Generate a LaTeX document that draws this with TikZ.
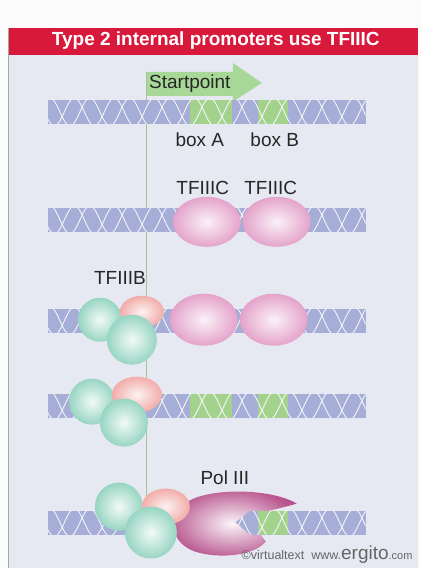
\documentclass[tikz,border=0pt]{standalone}
\usepackage{fontspec}
\setmainfont{Liberation Sans}

\definecolor{panelbg}{HTML}{E7E9F2}
\definecolor{titlered}{HTML}{D8193B}
\definecolor{dnablue}{HTML}{A6ADD6}
\definecolor{boxgreen}{HTML}{A3D28C}
\definecolor{startgreen}{HTML}{A8D897}
\definecolor{tfcpink}{HTML}{E4A3CB}
\definecolor{tfbgreen}{HTML}{97D5C2}
\definecolor{tfbpink}{HTML}{F1ADA9}
\definecolor{polmauve}{HTML}{B8558E}
\definecolor{textgray}{HTML}{262626}

% one stretch of double helix, #1 = lower edge
\newcommand\dnastrip[1]{%
  \fill[dnablue] (48,#1) rectangle (366,#1+24);
  \fill[boxgreen] (190,#1) rectangle (232,#1+24);
  \fill[boxgreen] (258,#1) rectangle (288,#1+24);
  \begin{scope}
    \clip (48,#1) rectangle (366,#1+24);
    \draw[helix] plot[domain=44:370,samples=200] (\x,{#1+12+14*sin(9*\x)});
    \draw[helix] plot[domain=44:370,samples=200] (\x,{#1+12+14*sin(9*\x+140)});
  \end{scope}}

\begin{document}
\begin{tikzpicture}[x=1pt,y=1pt,
  lbl/.style={font=\fontsize{19}{22}\selectfont,text=textgray,inner sep=0pt},
  helix/.style={white!88!dnablue,line width=0.9pt},
  tfc/.style={inner color=tfcpink!15,outer color=tfcpink},
  tfb/.style={inner color=tfbgreen!12,outer color=tfbgreen},
  tfbsmall/.style={inner color=tfbpink!15,outer color=tfbpink},
  polshade/.style={inner color=polmauve!6,outer color=polmauve}]

  \fill[white!97!gray] (0,0) rectangle (421,568);
  \fill[panelbg] (9,0) rectangle (418,540);
  \draw[gray!70,line width=1pt] (9,0) -- (9,540);
  \fill[titlered] (9,513) rectangle (418,540);
  \node[font=\bfseries\fontsize{19}{22}\selectfont,text=white,inner sep=0pt] (title) at (216,527) {Type 2 internal promoters use TFIIIC};

  % startpoint and its guide line
  \coordinate (top) at (147,496);
  \coordinate (bottom) at (147,70);
  \draw[startgreen!80!gray,line width=1.2pt] (top) -- (bottom);
  \fill[startgreen] (147,472) -- (147,496) -- (233,496) -- (233,505) -- (262,485) -- (233,466) -- (233,472) -- cycle;
  \node[lbl] (startpoint) at (190,484) {Startpoint};

  \foreach \y in {444,336,235,150,33} {
    \dnastrip{\y}
  }

  \node[lbl] (boxa) at (200,428) {box A};
  \node[lbl] (boxb) at (275,428) {box B};
  \node[lbl] (tfc1) at (203,380) {TFIIIC};
  \node[lbl] (tfc2) at (271,380) {TFIIIC};
  \node[lbl] (tfb) at (120,290) {TFIIIB};
  \node[lbl] (pol) at (225,90) {Pol III};

  % TFIIIC on box A and box B
  \shade[tfc] (207,346) ellipse [x radius=34,y radius=25];
  \shade[tfc] (277,346) ellipse [x radius=34,y radius=25];

  % TFIIIB joins
  \shade[tfc] (204,248) ellipse [x radius=34,y radius=26];
  \shade[tfc] (274,248) ellipse [x radius=34,y radius=26];
  \shade[tfb] (100,248) circle (22);
  \shade[tfbsmall] (142,256) ellipse [x radius=22,y radius=16];
  \shade[tfb] (132,228) circle (25);

  % TFIIIB stays
  \shade[tfb] (92,166) circle (23);
  \shade[tfbsmall] (137,173) ellipse [x radius=25,y radius=18];
  \shade[tfb] (124,145) circle (24);

  % Pol III clamps on
  \shade[polshade] (297,64) .. controls (270,80) and (205,80) .. (185,64)
    .. controls (168,50) and (170,25) .. (195,16)
    .. controls (220,8) and (255,12) .. (266,26) -- (260,34)
    .. controls (250,38) and (238,42) .. (236,46)
    .. controls (252,54) and (278,58) .. (297,64) -- cycle;
  \begin{scope}
    \clip (236,45) -- (250,57) -- (370,57) -- (370,33) -- (250,33) -- cycle;
    \dnastrip{33}
  \end{scope}
  \shade[tfb] (119,61) circle (24);
  \shade[tfbsmall] (166,61) ellipse [x radius=24,y radius=18];
  \shade[tfb] (151,35) circle (26);

  \node[anchor=east,text=gray!80!black,inner sep=0pt] (credit) at (413,13)
    {\fontsize{12.5}{14}\selectfont\copyright virtualtext\ \ www.\fontsize{19}{19}\selectfont ergito\fontsize{11}{12}\selectfont.com};
\end{tikzpicture}
\end{document}
